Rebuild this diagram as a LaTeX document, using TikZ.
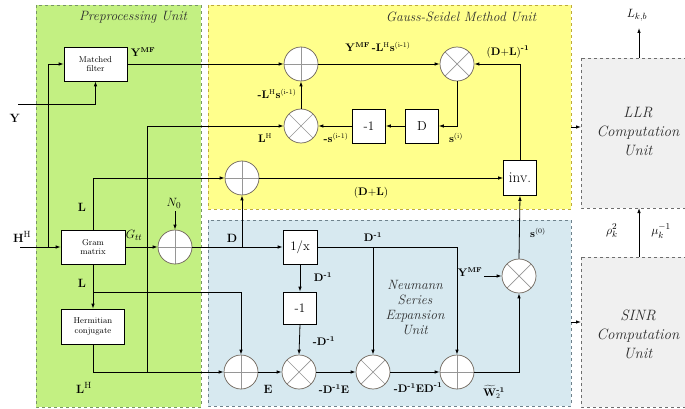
\documentclass[tikz,border=0pt]{standalone}
\usepackage{amsmath}
\usetikzlibrary{arrows.meta}
\definecolor{gfill}{RGB}{195,240,130}
\definecolor{gline}{RGB}{120,150,100}
\definecolor{yfill}{RGB}{255,255,140}
\definecolor{yline}{RGB}{190,170,60}
\definecolor{bfill}{RGB}{215,233,240}
\definecolor{bline}{RGB}{110,130,140}
\definecolor{kfill}{RGB}{240,240,240}
\definecolor{kline}{RGB}{110,110,110}
\definecolor{cline}{RGB}{110,100,90}
\definecolor{xline}{RGB}{150,150,150}
\definecolor{utext}{RGB}{45,45,45}
\tikzset{
  arr/.style={-{Latex[length=5pt,width=3.5pt]}, line width=0.8pt},
  blk/.style={draw, line width=0.6pt, fill=white, align=center, inner sep=0pt},
  smallblk/.style={blk, font=\fontsize{8.5}{9.5}\selectfont},
  bigblk/.style={blk, font=\fontsize{13}{14}\selectfont},
  sumn/.style={circle, draw=cline, line width=0.7pt, fill=white, minimum size=34pt, inner sep=0pt,
    path picture={\draw[xline, line width=0.7pt] (path picture bounding box.north) -- (path picture bounding box.south)
      (path picture bounding box.west) -- (path picture bounding box.east);}},
  muln/.style={circle, draw=cline, line width=0.7pt, fill=white, minimum size=34pt, inner sep=0pt,
    path picture={\draw[xline, line width=0.7pt] (path picture bounding box.north west) -- (path picture bounding box.south east)
      (path picture bounding box.south west) -- (path picture bounding box.north east);}},
  lbl/.style={font=\fontsize{13}{14}\selectfont, inner sep=0pt},
  slbl/.style={font=\fontsize{10.5}{11}\selectfont, inner sep=0pt},
  unit/.style={font=\fontsize{13.5}{15}\selectfont\itshape, text=utext, align=center, inner sep=0pt},
  bigunit/.style={font=\fontsize{15}{19}\selectfont\itshape, text=utext, align=center, inner sep=0pt},
}
\newcommand{\imo}{\mathrm{i\text{-}1}}
\newcommand{\hy}{\text{\normalfont\bfseries -}}
\newcommand{\mo}{\text{\normalfont\bfseries -1}}
\begin{document}
\begin{tikzpicture}[x=1pt,y=-1pt]
\clip (0,0) rectangle (685,409);
\fill[white] (0,0) rectangle (685,409);
% unit regions
\fill[gfill] (36,5) rectangle (201,407);
\draw[gline, dashed, line width=0.7pt] (36,5) rectangle (201,407);
\fill[yfill] (208,5) rectangle (571,209);
\draw[yline, dashed, line width=0.7pt] (208,5) rectangle (571,209);
\fill[bfill] (208,220) rectangle (571,406);
\draw[bline, dashed, line width=0.7pt] (208,220) rectangle (571,406);
\draw[kline, dashed, line width=0.7pt, fill=kfill] (581,58) rectangle (700,208);
\draw[kline, dashed, line width=0.7pt, fill=kfill] (581,257) rectangle (700,407);

\node[unit] (tpre) at (133,17) {Preprocessing Unit};
\node[unit] (tgs) at (461,17) {Gauss-Seidel Method Unit};
\node[unit] (tneu) at (415,308) {Neumann\\Series\\Expansion\\Unit};
\node[bigunit] (tllr) at (638,132) {LLR\\Computation\\Unit};
\node[bigunit] (tsinr) at (638,334) {SINR\\Computation\\Unit};

% blocks
\node[smallblk, minimum width=63pt, minimum height=34pt] (mf) at (95.5,64) {Matched\\filter};
\node[smallblk, minimum width=64pt, minimum height=34pt] (gram) at (93,247) {Gram\\matrix};
\node[smallblk, minimum width=63pt, minimum height=35pt] (herm) at (93,326.5) {Hermitian\\conjugate};
\node[sumn] (add1) at (301,64) {};
\node[muln] (mul1) at (301,126) {};
\node[muln] (mul2) at (457,64) {};
\node[bigblk, minimum width=33pt, minimum height=34pt] (dbox) at (422,126) {D};
\node[bigblk, minimum width=33pt, minimum height=34pt] (m1a) at (369,126) {-1};
\node[sumn] (add3) at (242,178) {};
\node[blk, minimum width=33pt, minimum height=35pt, font=\fontsize{15}{16}\selectfont] (inv) at (520,178) {inv.};
\node[sumn] (n0add) at (175,247) {};
\node[bigblk, minimum width=34pt, minimum height=34pt] (recip) at (300,247) {1/x};
\node[bigblk, minimum width=33pt, minimum height=32pt] (m1b) at (300,308) {-1};
\node[sumn] (addE) at (241,372) {};
\node[muln] (mul3) at (299,372) {};
\node[muln] (mul4) at (373,372) {};
\node[sumn] (addF) at (457,372) {};
\node[muln] (mul5) at (519,276) {};

% free ends
\coordinate (yin) at (18,104);
\coordinate (hin) at (20,247);
\coordinate (hj) at (48,247);
\coordinate (lhj) at (147,372);
\coordinate (lj) at (93,292);
\coordinate (dj) at (242,247);
\coordinate (n0in) at (175,211);
\coordinate (ymfin) at (484,276);
\coordinate (gsout) at (571,127);
\coordinate (llrin) at (581,127);
\coordinate (nsout) at (571,322);
\coordinate (sinrin) at (581,322);
\coordinate (sinrtop) at (639,257);
\coordinate (llrbot) at (639,208);
\coordinate (llrtop) at (639,58);
\coordinate (lkb) at (639,28);

% connectors
\draw[arr] (yin) -| (mf.south);
\draw[arr] (hin) -- (gram.west);
\draw[arr] (hj) |- (mf.west);
\draw[arr] (mf.east) -- (add1.west);
\draw[arr] (add1.east) -- (mul2.west);
\draw[arr] (inv.north) |- (mul2.east);
\draw[arr] (mul2.south) |- (dbox.east);
\draw[arr] (dbox.west) -- (m1a.east);
\draw[arr] (m1a.west) -- (mul1.east);
\draw[arr] (mul1.north) -- (add1.south);
\draw[arr] (herm.south) |- (addE.west);
\draw[arr] (lhj) |- (mul1.west);
\draw[arr] (gram.north) |- (add3.west);
\draw[arr] (gram.south) -- (herm.north);
\draw[arr] (lj) -| (addE.north);
\draw[arr] (gram.east) -- (n0add.west);
\draw[arr] (n0in) -- (n0add.north);
\draw[arr] (n0add.east) -- (recip.west);
\draw[arr] (dj) -- (add3.south);
\draw[arr] (add3.east) -- (inv.west);
\draw[arr] (recip.south) -- (m1b.north);
\draw[arr] (m1b.south) -- (mul3.north);
\draw[arr] (addE.east) -- (mul3.west);
\draw[arr] (mul3.east) -- (mul4.west);
\draw[arr] (mul4.east) -- (addF.west);
\draw[arr] (recip.east) -| (addF.north);
\draw[arr] (mul4.north |- recip.east) -- (mul4.north);
\draw[arr] (addF.east) -| (mul5.south);
\draw[arr] (ymfin) -- (mul5.west);
\draw[arr] (mul5.north) -- (inv.south);
\draw[arr] (gsout) -- (llrin);
\draw[arr] (nsout) -- (sinrin);
\draw[arr] (sinrtop) -- (llrbot);
\draw[arr] (llrtop) -- (lkb);

% labels
\node[lbl] at (15,118) {$\mathbf{Y}$};
\node[lbl] at (22,237) {$\mathbf{H}^{\mathrm{H}}$};
\node[slbl] at (143,52) {$\mathbf{Y}^{\mathbf{MF}}$};
\node[lbl] at (82,207) {$\mathbf{L}$};
\node[lbl] at (82,283) {$\mathbf{L}$};
\node[lbl] at (84,388) {$\mathbf{L}^{\mathrm{H}}$};
\node[lbl] at (134,235) {$G_{tt}$};
\node[lbl] at (174,203) {$N_0$};
\node[lbl] at (232,238) {$\mathbf{D}$};
\node[slbl] at (378,47) {$\mathbf{Y}^{\mathbf{MF}}\,\hy\mathbf{L}^{\mathrm{H}}\mathbf{s}^{(\imo)}$};
\node[slbl] at (508,52) {$\mathbf{(D{+}L)}^{\mo}$};
\node[slbl] at (277,94) {$\hy\mathbf{L}^{\mathrm{H}}\mathbf{s}^{(\imo)}$};
\node[slbl] at (265,138) {$\mathbf{L}^{\mathrm{H}}$};
\node[slbl] at (336,138) {$\hy\mathbf{s}^{(\imo)}$};
\node[slbl] at (456,138) {$\mathbf{s}^{(\mathrm{i})}$};
\node[slbl] at (371,193) {$\mathbf{(D{+}L)}$};
\node[slbl] at (373,237) {$\mathbf{D}^{\mo}$};
\node[slbl] at (323,277) {$\mathbf{D}^{\mo}$};
\node[slbl] at (324,341) {$\hy\mathbf{D}^{\mo}$};
\node[lbl] at (268,389) {$\mathbf{E}$};
\node[slbl] at (334,389) {$\hy\mathbf{D}^{\mo}\mathbf{E}$};
\node[slbl] at (418,388) {$\hy\mathbf{D}^{\mo}\mathbf{ED}^{\mo}$};
\node[slbl] at (494,392) {$\widetilde{\mathbf{W}}_2^{\mo}$};
\node[slbl] at (470,272) {$\mathbf{Y}^{\mathbf{MF}}$};
\node[slbl] at (538,233) {$\mathbf{s}^{(0)}$};
\node[lbl] at (637,15) {$L_{k,b}$};
\node[lbl] at (612,231) {$\rho_k^2$};
\node[lbl] at (661,231) {$\mu_k^{-1}$};
\end{tikzpicture}
\end{document}
